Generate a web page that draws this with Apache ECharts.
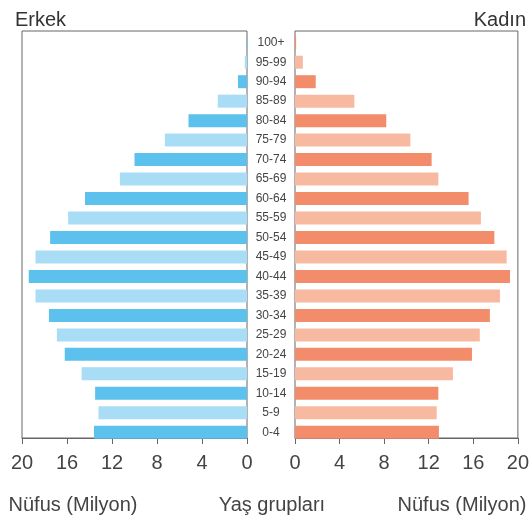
<!DOCTYPE html>
<html>
<head>
<meta charset="utf-8">
<script src="https://cdn.jsdelivr.net/npm/echarts@6/dist/echarts.min.js"></script>
<style>html,body{margin:0;padding:0;background:#fff;}#c{width:532px;height:525px;}</style>
</head>
<body>
<div id="c"></div>
<script>
var ageGroups = ['0-4','5-9','10-14','15-19','20-24','25-29','30-34','35-39','40-44','45-49','50-54','55-59','60-64','65-69','70-74','75-79','80-84','85-89','90-94','95-99','100+'];
var maleValues = [13.6,13.2,13.5,14.7,16.2,16.9,17.6,18.8,19.4,18.8,17.5,15.9,14.4,11.3,10.0,7.3,5.2,2.6,0.8,0.2,0.05];
var femaleValues = [12.85,12.65,12.8,14.1,15.8,16.5,17.4,18.3,19.2,18.9,17.8,16.6,15.5,12.8,12.2,10.3,8.15,5.3,1.85,0.7,0.1];
var tickValues = [0,4,8,12,16,20];

var maleColors = ['#5CC1EC', '#A9DCF5'];
var femaleColors = ['#F28C6B', '#F8B9A1'];
var font = 'Liberation Sans, Arial, sans-serif';

var chart = echarts.init(document.getElementById('c'));

function frameXAxis(grid, inverse) {
  return {
    type: 'value', gridIndex: grid, min: 0, max: 20, interval: 4, inverse: inverse,
    position: 'bottom',
    axisLine: {show: true, lineStyle: {color: '#666', width: 1}},
    axisTick: {show: true, inside: false, length: 6, lineStyle: {color: '#666'}},
    axisLabel: {show: true, margin: 15, fontSize: 20, color: '#444', fontFamily: font},
    splitLine: {show: false}
  };
}
function hiddenXAxis(grid, inverse) {
  return {type: 'value', gridIndex: grid, min: 0, max: 20, interval: 4, inverse: inverse,
    axisLine: {show: false}, axisTick: {show: false}, axisLabel: {show: false}, splitLine: {show: false}};
}
function hiddenYValue(grid) {
  return {type: 'value', gridIndex: grid, min: 0, max: 1,
    axisLine: {show: false}, axisTick: {show: false}, axisLabel: {show: false}, splitLine: {show: false}};
}

var titleStyle = {fontSize: 20, fontWeight: 'normal', color: '#444', fontFamily: font};

var option = {
  animation: false,
  backgroundColor: '#fff',
  title: [
    {text: 'Erkek', left: 10, top: 5, textStyle: {fontSize: 20, fontWeight: 'normal', color: '#333', fontFamily: font}},
    {text: 'Kadın', right: 1, top: 5, textStyle: {fontSize: 20, fontWeight: 'normal', color: '#333', fontFamily: font}},
    {text: 'Nüfus (Milyon)', left: 68, top: 490, textAlign: 'center', textStyle: titleStyle},
    {text: 'Yaş grupları', left: 267, top: 490, textAlign: 'center', textStyle: titleStyle},
    {text: 'Nüfus (Milyon)', left: 457, top: 490, textAlign: 'center', textStyle: titleStyle}
  ],
  grid: [
    {left: 22, width: 225, top: 31, height: 407, show: true, borderColor: '#666', borderWidth: 1, backgroundColor: 'transparent'},
    {left: 295, width: 224, top: 31, height: 407, show: true, borderColor: '#666', borderWidth: 1, backgroundColor: 'transparent'},
    {left: 22, width: 225, top: 33, height: 409},
    {left: 295, width: 224, top: 33, height: 409}
  ],
  xAxis: [
    frameXAxis(0, true),
    frameXAxis(1, false),
    hiddenXAxis(2, true),
    hiddenXAxis(3, false)
  ],
  yAxis: [
    hiddenYValue(0),
    hiddenYValue(1),
    {type: 'category', gridIndex: 2, data: ageGroups, position: 'right',
      axisLine: {show: false}, axisTick: {show: false},
      axisLabel: {show: true, margin: 24, align: 'center', fontSize: 12, color: '#444', fontFamily: font, interval: 0}},
    {type: 'category', gridIndex: 3, data: ageGroups,
      axisLine: {show: false}, axisTick: {show: false}, axisLabel: {show: false}}
  ],
  series: [
    {type: 'bar', name: 'Erkek', xAxisIndex: 2, yAxisIndex: 2, data: maleValues, barWidth: 13,
      itemStyle: {color: function (p) { return maleColors[p.dataIndex % 2]; }}},
    {type: 'bar', name: 'Kadın', xAxisIndex: 3, yAxisIndex: 3, data: femaleValues, barWidth: 13,
      itemStyle: {color: function (p) { return femaleColors[p.dataIndex % 2]; }}}
  ]
};
chart.setOption(option);
</script>
</body>
</html>
